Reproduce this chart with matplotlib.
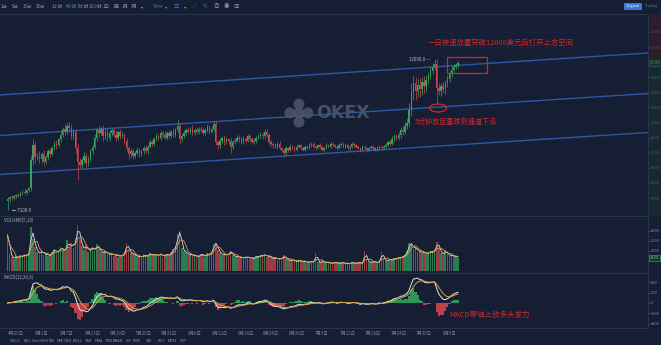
import numpy as np
import pandas as pd
import matplotlib
matplotlib.use('Agg')
import matplotlib.pyplot as plt
import matplotlib.transforms as mtransforms
from matplotlib.patches import Rectangle, Ellipse, Circle

plt.rcParams['font.family'] = ['Noto Sans CJK SC', 'DejaVu Sans']

# ---- data (12h candles) ----
first_open = 7400
closes = [
    7460, 7520, 7490, 7560, 7610, 7580, 7650, 7700, 7680, 7760,
    7820, 8750, 9250, 8850, 8900, 8780, 8950, 8700, 8850, 9050,
    8960, 9150, 9300, 9250, 9450, 9600, 9800, 9700, 9900, 9820,
    9550, 9700, 9150, 8700, 8600, 8750, 8900, 8650, 8800, 9050,
    9200, 9500, 9750, 9650, 9800, 9550, 9700, 9500, 9650, 9750,
    9600, 9500, 9700, 9550, 9600, 9400, 9150, 8950, 9050, 8900,
    9000, 9100, 8950, 9050, 9150, 9050, 9200, 9350, 9300, 9450,
    9550, 9500, 9650, 9600, 9500, 9650, 9550, 9700, 9600, 9750,
    9900, 9450, 9550, 9650, 9750, 9700, 9800, 9650, 9750, 9700,
    9800, 9750, 9650, 9750, 9850, 9700, 9800, 9950, 9350, 9250,
    9400, 9500, 9350, 9450, 9400, 9200, 9350, 9400, 9500, 9450,
    9350, 9450, 9400, 9550, 9450, 9350, 9400, 9500, 9550, 9600,
    9550, 9700, 9600, 9350, 9300, 9250, 9200, 9300, 9150, 9100,
    9000, 9150, 9100, 9200, 9150, 9100, 9200, 9250, 9150, 9100,
    9200, 9150, 9250, 9300, 9200, 9150, 9250, 9200, 9100, 9150,
    9250, 9200, 9300, 9250, 9200, 9150, 9250, 9300, 9200, 9250,
    9150, 9200, 9300, 9250, 9200, 9150, 9100, 9200, 9150, 9100,
    9150, 9200, 9150, 9100, 9150, 9200, 9150, 9200, 9250, 9350,
    9300, 9450, 9550, 9500, 9600, 9750, 9700, 9900, 10000, 10400,
    11000, 11300, 11050, 11250, 11100, 11350, 11200, 11400, 11550, 11700,
    11850, 11950, 11150, 11050, 11200, 11100, 11300, 11450, 11600, 11750,
    11850, 11900, 11980,
]
wick_hi = [
    60, 40, 80, 50, 30, 70, 40, 60, 90, 50,
    40, 150, 210, 120, 80, 150, 60, 130, 90, 70,
    110, 60, 90, 120, 50, 80, 60, 150, 100, 110,
    130, 90, 80, 150, 110, 90, 130, 80, 100, 70,
    90, 110, 60, 150, 80, 120, 70, 130, 90, 60,
    80, 120, 60, 90, 110, 50, 100, 80, 120, 60,
    70, 90, 50, 80, 60, 100, 70, 120, 60, 80,
    90, 60, 100, 80, 120, 70, 90, 60, 110, 70,
    200, 80, 60, 90, 70, 100, 60, 120, 70, 90,
    60, 80, 100, 70, 90, 60, 80, 100, 90, 70,
    80, 60, 90, 70, 50, 80, 60, 90, 70, 80,
    60, 90, 70, 80, 60, 70, 90, 60, 80, 70,
    90, 100, 70, 60, 80, 50, 70, 60, 80, 50,
    70, 60, 50, 80, 40, 60, 70, 50, 40, 60,
    50, 40, 70, 50, 60, 40, 50, 60, 40, 50,
    60, 50, 40, 60, 50, 40, 60, 50, 40, 60,
    50, 40, 60, 50, 40, 50, 40, 60, 50, 40,
    50, 40, 50, 40, 60, 50, 40, 50, 70, 80,
    60, 90, 80, 70, 100, 90, 120, 110, 150, 250,
    300, 250, 200, 180, 220, 150, 200, 160, 120, 150,
    130, 140, 138, 150, 120, 160, 110, 130, 90, 120,
    100, 80, 60,
]
wick_lo = [
    300, 80, 40, 60, 70, 40, 60, 50, 70, 40,
    60, 100, 150, 200, 90, 120, 100, 150, 80, 90,
    100, 80, 70, 120, 60, 90, 70, 100, 80, 120,
    100, 80, 150, 600, 120, 100, 80, 130, 90, 70,
    80, 90, 100, 120, 70, 150, 80, 120, 100, 90,
    70, 110, 80, 100, 70, 120, 100, 150, 90, 110,
    80, 70, 100, 60, 90, 70, 80, 60, 90, 70,
    60, 80, 70, 90, 60, 80, 70, 60, 90, 70,
    60, 150, 80, 70, 90, 60, 80, 70, 60, 90,
    70, 60, 80, 60, 70, 90, 60, 80, 100, 120,
    90, 70, 80, 60, 100, 200, 90, 70, 60, 80,
    70, 60, 80, 60, 90, 70, 60, 80, 60, 70,
    80, 60, 90, 100, 70, 80, 60, 90, 70, 80,
    100, 60, 70, 50, 60, 70, 50, 60, 70, 50,
    60, 50, 40, 60, 50, 70, 40, 50, 60, 50,
    40, 60, 50, 40, 60, 50, 40, 50, 60, 40,
    60, 50, 40, 60, 50, 40, 70, 50, 40, 60,
    50, 40, 60, 50, 40, 50, 60, 40, 50, 60,
    70, 50, 80, 90, 70, 100, 120, 80, 110, 150,
    200, 250, 300, 200, 250, 180, 220, 150, 130, 120,
    110, 100, 500, 150, 180, 120, 160, 130, 100, 90,
    110, 90, 80,
]
volumes = [
    3600, 1800, 1400, 1200, 1500, 1300, 1600, 1400, 1700, 1500,
    1800, 4400, 3200, 2400, 1900, 1700, 2100, 1600, 1800, 1500,
    1600, 1900, 2200, 1800, 2000, 2400, 2100, 1900, 3100, 2300,
    2800, 2300, 3300, 4600, 3200, 2500, 2100, 2600, 1900, 2200,
    2400, 2000, 2700, 2200, 1900, 1800, 2000, 1700, 1600, 1800,
    1500, 1700, 1400, 1600, 1500, 1900, 2800, 2100, 1800, 1700,
    1600, 1400, 1500, 1300, 1700, 1400, 1600, 1800, 1500, 1700,
    1600, 1500, 1800, 1400, 1600, 1700, 1500, 1900, 2200, 2400,
    3700, 4000, 2300, 2000, 1800, 1600, 1700, 1500, 1600, 1400,
    1500, 1700, 1600, 1400, 1800, 1600, 1900, 2700, 2800, 2100,
    1800, 1600, 1700, 1500, 1800, 2000, 1600, 1400, 1500, 1300,
    1400, 1200, 1500, 1300, 1400, 1200, 1300, 1500, 1400, 1600,
    1500, 1700, 1400, 1500, 1300, 1200, 1400, 1100, 1300, 1200,
    1600, 1200, 1100, 1000, 1200, 1000, 900, 1100, 1000, 900,
    1000, 800, 900, 1000, 800, 1800, 900, 800, 1000, 900,
    800, 900, 700, 800, 900, 800, 700, 900, 800, 700,
    800, 700, 900, 800, 700, 900, 800, 700, 2000, 1100,
    900, 800, 1000, 900, 800, 1000, 1900, 1200, 1000, 1100,
    1200, 1100, 1300, 1200, 1400, 1300, 1500, 1600, 2000, 2800,
    2700, 2200, 2400, 1900, 2000, 1800, 1900, 1700, 1800, 2000,
    1900, 2100, 2900, 2300, 1800, 1600, 2100, 1700, 1500, 1600,
    1400, 1500, 1300,
]
date_ticks = [4, 16, 28, 40, 52, 64, 76, 88, 100, 112, 124, 136, 148, 160, 172, 184, 196, 208]
date_labels = ['4月25日', '5月1日', '5月7日', '5月13日', '5月19日', '5月25日', '5月31日',
               '6月6日', '6月12日', '6月18日', '6月24日', '6月30日', '7月6日', '7月12日',
               '7月18日', '7月24日', '7月30日', '8月5日']
price_ticks = [7500, 8000, 8500, 9000, 9500, 10000, 10500, 11000, 11500, 12000, 12500, 13000]
vol_ticks = [1000, 2000, 3000, 4000]
# channel lines: price at left edge and right edge of the chart
channel_left = [10911, 9570, 8278]
channel_right = [12301, 10960, 9669]

toolbar_items = ['1分', '5分', '15分', '30分', '1小时', '4小时', '6小时', '12小时', '1日', '1周', '1月', '3月']
toolbar_x = [4, 15, 27, 41, 57, 72, 83, 95, 106, 116, 125, 134]
tab_items = ['MACD', 'KDJ', 'StochRSI', 'RSI', 'DMI', 'OBV', 'BOLL', 'SAR', 'DMA', 'TRIX',
             'BRAR', 'VR', 'EMV', 'WR', 'ROC', 'MTM', 'PSY']
tab_x = [15, 27, 40, 52, 60, 68, 78, 88, 99, 109, 118, 128, 137, 149, 162, 172, 183]

note_top = '一日快速放量突破12000美元后打开上方空间'
note_mid = '5分钟放巨量跌到通道下沿'
note_macd = 'MACD零轴上放多头发力'

# ---- styling ----
W, H = 661, 345
BG = '#161e33'
GREEN = '#33a35f'
RED = '#d0454c'
TXT = '#7c8599'
LINE = '#2b3650'
ANNO = '#d3252b'

closes = np.array(closes, dtype=float)
opens = np.r_[first_open, closes[:-1]]
highs = np.maximum(opens, closes) + np.array(wick_hi)
lows = np.minimum(opens, closes) - np.array(wick_lo)
idx = np.arange(len(closes))
colors = np.where(closes >= opens, GREEN, RED)

x0, x1 = -3.53, 301.41


def frac(px_left, px_top, px_w, px_h):
    return [px_left / W, 1 - (px_top + px_h) / H, px_w / W, px_h / H]


fig = plt.figure(figsize=(W / 100, H / 100), dpi=100, facecolor=BG)
ax = fig.add_axes(frac(0, 14, 648, 202), facecolor=BG)
axv = fig.add_axes(frac(0, 216, 648, 57), facecolor=BG, sharex=ax)
axm = fig.add_axes(frac(0, 273, 648, 55), facecolor=BG, sharex=ax)

for a in (ax, axv, axm):
    for s in a.spines.values():
        s.set_color(LINE)
        s.set_linewidth(0.6)
    a.spines['left'].set_visible(False)
    a.yaxis.tick_right()
    a.tick_params(axis='y', colors=TXT, labelsize=2.9, length=1.2, width=0.4, pad=0.8)
    a.tick_params(axis='x', length=0)
    a.grid(True, color='#1c2640', lw=0.4)
    a.set_axisbelow(True)

# candles
body = np.maximum(np.abs(closes - opens), 15)
ax.vlines(idx, lows, highs, colors=colors, lw=0.5, zorder=3)
ax.bar(idx, body, bottom=np.minimum(opens, closes), width=0.7, color=colors, lw=0, zorder=3)

# channel
for pl, pr in zip(channel_left, channel_right):
    ax.plot([x0, x1], [pl, pr], color='#2d58a6', lw=1.0, zorder=2)

ax.set_xlim(x0, x1)
ax.set_ylim(6904, 13593)
ax.set_yticks(price_ticks)
# the current price tag sits over the nearest tick label
ax.set_yticklabels(['' if abs(p - closes[-1]) < 300 else str(p) for p in price_ticks])
ax.tick_params(axis='x', labelbottom=False)

# extremes
imax = int(np.argmax(highs))
imin = int(np.argmin(lows))
ax.text(imax - 2, highs[imax], f'{highs[imax]:.1f} —', color='#b8bfcc', fontsize=3.2,
        ha='right', va='center', zorder=4)
ax.text(imin + 2, lows[imin], f'← {lows[imin]:.1f}', color='#b8bfcc', fontsize=3.2,
        ha='left', va='center', zorder=4)

# current price tag
bt = mtransforms.blended_transform_factory(ax.transAxes, ax.transData)
ax.text(1.003, closes[-1], f'{closes[-1]:.0f}', transform=bt, color='#6fcf8a', fontsize=2.9,
        ha='left', va='center', clip_on=False,
        bbox=dict(boxstyle='square,pad=0.25', fc='#173326', ec='#3d9c5e', lw=0.5))

# annotations on the price pane
ax.add_patch(Rectangle((206.8, 11639), 18.8, 530, fill=False, ec=ANNO, lw=0.9, zorder=5))
ax.add_patch(Ellipse((202.6, 10480), 8, 265, fill=False, ec=ANNO, lw=0.9, zorder=5))
ax.text(197.6, 12632, note_top, color=ANNO, fontsize=5.3, ha='left', va='center', zorder=5)
ax.text(191.8, 10016, note_mid, color=ANNO, fontsize=5.1, ha='left', va='center', zorder=5)

# volume; the chart's MA(5,10) on 4h bars is roughly MA(2,4) on these 12h bars
vol = pd.Series(volumes, dtype=float)
axv.bar(idx, volumes, width=0.8, color=colors, alpha=0.72, lw=0, zorder=2)
axv.plot(idx, vol.rolling(2, min_periods=1).mean(), color='#dcdde2', lw=0.6, zorder=3)
axv.plot(idx, vol.rolling(4, min_periods=1).mean(), color='#d9a23c', lw=0.6, zorder=3)
axv.set_ylim(-200, 5500)
axv.set_yticks(vol_ticks)
axv.set_yticklabels(['' if abs(v - volumes[-1]) < 500 else str(v) for v in vol_ticks])
axv.tick_params(axis='x', labelbottom=False)
axv.text(0.006, 0.97, 'VOLUME(5,10)', transform=axv.transAxes, color='#a8afbd',
         fontsize=3.2, ha='left', va='top')
bv = mtransforms.blended_transform_factory(axv.transAxes, axv.transData)
axv.text(1.003, volumes[-1], f'{volumes[-1]:.0f}', transform=bv, color='#6fcf8a', fontsize=2.9,
         ha='left', va='center', clip_on=False,
         bbox=dict(boxstyle='square,pad=0.25', fc='#173326', ec='#3d9c5e', lw=0.5))

# MACD(12,26,9) on 4h bars, approximated with shorter spans on these 12h bars
s = pd.Series(closes)
dif = s.ewm(span=6, adjust=False).mean() - s.ewm(span=13, adjust=False).mean()
dea = dif.ewm(span=5, adjust=False).mean()
hist = 2 * (dif - dea)
axm.bar(idx, hist, width=1.0, color=np.where(hist >= 0, GREEN, RED), lw=0, alpha=0.9, zorder=2)
axm.plot(idx, dif, color='#e4e6ea', lw=0.7, zorder=3)
axm.plot(idx, dea, color='#d9a23c', lw=0.7, zorder=3)
m = max(np.abs(dif).max(), np.abs(dea).max(), np.abs(hist).max())
axm.set_ylim(-m, 1.2 * m)
axm.yaxis.set_major_locator(plt.MaxNLocator(6))
axm.text(0.006, 0.97, 'MACD(12,26,9)', transform=axm.transAxes, color='#a8afbd',
         fontsize=3.2, ha='left', va='top')
bm = mtransforms.blended_transform_factory(axm.transData, axm.transAxes)
axm.text(207.8, 0.24, note_macd, transform=bm, color=ANNO, fontsize=5.4, ha='left', va='center')
axm.set_xticks(date_ticks)
axm.set_xticklabels(date_labels)
axm.tick_params(axis='x', colors=TXT, labelsize=3.2, pad=2.5)

# ---- overlay in pixel units: toolbar, tabs, watermark ----
ov = fig.add_axes([0, 0, 1, 1], facecolor='none', zorder=10)
ov.set_xlim(0, W)
ov.set_ylim(H, 0)
ov.axis('off')

for t, x in zip(toolbar_items, toolbar_x):
    c = '#4d86e8' if t == '4小时' else '#8c94a5'
    ov.text(x, 6.5, t, color=c, fontsize=3.2, ha='center', va='center')
ov.text(142, 6.5, '▾', color='#8c94a5', fontsize=3.2, ha='center', va='center')
ov.text(158, 6.5, 'Time', color='#3f72d0', fontsize=3.2, ha='center', va='center')
ov.text(166, 6.5, '▾', color='#8c94a5', fontsize=3.2, ha='center', va='center')
ov.text(176, 6.5, '▥', color='#3f72d0', fontsize=4, ha='center', va='center')
ov.text(185, 6.5, '▾', color='#8c94a5', fontsize=3.2, ha='center', va='center')
for ic, x, c in [('∕', 195, '#3f72d0'), ('✎', 205, '#3f72d0'), ('◎', 216, '#8c94a5'),
                 ('◉', 226, '#8c94a5'), ('▣', 236, '#8c94a5')]:
    ov.text(x, 6.5, ic, color=c, fontsize=4, ha='center', va='center')

ov.add_patch(Rectangle((624, 3), 18, 7, fc='#3d74d6', ec='none'))
ov.text(633, 6.5, 'Original', color='white', fontsize=2.7, ha='center', va='center')
ov.text(651.5, 6.5, 'Trading', color='#6f788b', fontsize=2.6, ha='center', va='center')

for t, x in zip(tab_items, tab_x):
    c = '#4d86e8' if t == 'MACD' else '#8c94a5'
    ov.text(x, 340.5, t, color=c, fontsize=2.9, ha='center', va='center')

# price-depth tint in the right gutter
ov.add_patch(Rectangle((649, 14), 12, 48, fc='#3a1d27', ec='none', alpha=0.6, zorder=0))
ov.add_patch(Rectangle((649, 62), 12, 154, fc='#17352c', ec='none', alpha=0.5, zorder=0))

# watermark
wm = '#4d566b'
for cx, cy in [(299, 104), (290, 113), (308, 113), (299, 122), (299, 113)]:
    ov.add_patch(Circle((cx, cy), 5.5, fc=wm, ec='none', alpha=0.85))
ov.text(316, 113.5, 'OKEX', color=wm, fontsize=12.5, fontweight='bold',
        fontfamily='DejaVu Sans', ha='left', va='center', alpha=0.9)

fig.savefig('out.png', dpi=100, facecolor=BG)
